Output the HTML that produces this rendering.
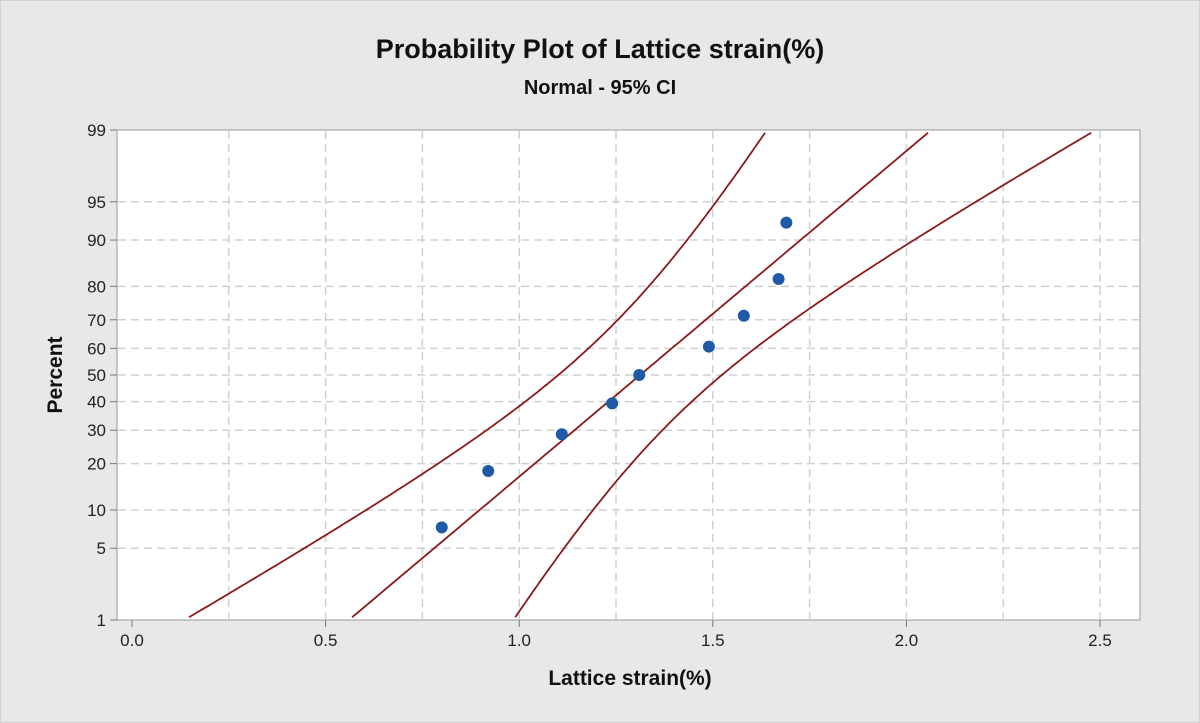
<!DOCTYPE html>
<html><head><meta charset="utf-8"><style>
body{margin:0;background:#fff}
svg{display:block;font-family:"Liberation Sans",sans-serif}
</style></head><body>
<svg id="c" width="1200" height="723" viewBox="0 0 1200 723">
<rect x="0" y="0" width="1200" height="723" fill="#e8e8e8" stroke="#bdbdbd"/>
<text x="600" y="58" text-anchor="middle" font-size="27" font-weight="bold" fill="#111">Probability Plot of Lattice strain(%)</text>
<text x="600" y="94" text-anchor="middle" font-size="20" font-weight="bold" fill="#111">Normal - 95% CI</text>
<rect x="117" y="130" width="1023" height="490" fill="#fff" stroke="#999"/>
<g id="grid"></g><g id="axes"></g><g id="curves"></g><g id="pts"></g>
<text x="630" y="685" text-anchor="middle" font-size="21" font-weight="bold" fill="#111">Lattice strain(%)</text>
<text transform="translate(62,375) rotate(-90)" text-anchor="middle" font-size="21" font-weight="bold" fill="#111">Percent</text>
</svg>
<script>
const strainValues=[0.80,0.92,1.11,1.24,1.31,1.49,1.58,1.67,1.69];
const percentValues=[7.4,18.1,28.7,39.4,50,60.6,71.3,81.9,92.6];
const xTicks=[0,0.5,1,1.5,2,2.5];
const xTickLabels=["0.0","0.5","1.0","1.5","2.0","2.5"];
const xGrid=[0.25,0.5,0.75,1,1.25,1.5,1.75,2,2.25,2.5];
const yTicks=[1,5,10,20,30,40,50,60,70,80,90,95,99];
const NS="http://www.w3.org/2000/svg";
function qnorm(p){ // Acklam
 const a=[-39.69683028665376,220.9460984245205,-275.9285104469687,138.3577518672690,-30.66479806614716,2.506628277459239],
 b=[-54.47609879822406,161.5858368580409,-155.6989798598866,66.80131188771972,-13.28068155288572],
 c=[-0.007784894002430293,-0.3223964580411365,-2.400758277161838,-2.549732539343734,4.374664141464968,2.938163982698783],
 d=[0.007784695709041462,0.3224671290700398,2.445134137142996,3.754408661907416];
 let q,r;
 if(p<0.02425){q=Math.sqrt(-2*Math.log(p));return (((((c[0]*q+c[1])*q+c[2])*q+c[3])*q+c[4])*q+c[5])/((((d[0]*q+d[1])*q+d[2])*q+d[3])*q+1);}
 if(p>1-0.02425){q=Math.sqrt(-2*Math.log(1-p));return -(((((c[0]*q+c[1])*q+c[2])*q+c[3])*q+c[4])*q+c[5])/((((d[0]*q+d[1])*q+d[2])*q+d[3])*q+1);}
 q=p-0.5;r=q*q;return (((((a[0]*r+a[1])*r+a[2])*r+a[3])*r+a[4])*r+a[5])*q/(((((b[0]*r+b[1])*r+b[2])*r+b[3])*r+b[4])*r+1);
}
const X0=132,XS=387.2,YC=375,YS=245/qnorm(0.99);
const xs=v=>X0+v*XS;
const yz=z=>YC-z*YS;
const yp=p=>yz(qnorm(p/100));
function mk(tag,attrs,parent,name){const e=document.createElementNS(NS,tag);for(const k in attrs)e.setAttribute(k,attrs[k]);
 
 
 document.getElementById(parent).appendChild(e);return e;}
xGrid.forEach(v=>mk('line',{x1:xs(v),x2:xs(v),y1:131,y2:619,stroke:'#d0d0d0','stroke-dasharray':'8,5','stroke-width':1.5},'grid','x-gridline'));
yTicks.slice(1,-1).forEach(p=>mk('line',{x1:118,x2:1139,y1:yp(p),y2:yp(p),stroke:'#d0d0d0','stroke-dasharray':'8,5','stroke-width':1.5},'grid','y-gridline'));
xTicks.forEach((v,i)=>{mk('line',{x1:xs(v),x2:xs(v),y1:620,y2:627,stroke:'#777'},'axes','x-tick');
 const t=mk('text',{x:xs(v),y:646,'text-anchor':'middle','font-size':17,fill:'#222'},'axes','x-tick-label');t.textContent=xTickLabels[i];});
yTicks.forEach(p=>{mk('line',{x1:110,x2:117,y1:yp(p),y2:yp(p),stroke:'#777'},'axes','y-tick');
 const t=mk('text',{x:106,y:yp(p)+6,'text-anchor':'end','font-size':17,fill:'#222'},'axes','y-tick-label');t.textContent=p;});
const n=strainValues.length;
const mean=strainValues.reduce((a,b)=>a+b,0)/n;
const sd=Math.sqrt(strainValues.reduce((a,b)=>a+(b-mean)**2,0)/(n-1));
function curve(f){let d='';for(let z=-2.5;z<=2.5;z+=0.02){const x=f(z);const px=xs(x),py=yz(z);
 if(py<131||py>619||px<118||px>1139)continue;d+=(d?'L':'M')+px.toFixed(1)+','+py.toFixed(1);}return d;}
const se=z=>1.96*Math.sqrt(sd*sd/n+z*z*sd*sd/(2*(n-1)));
[[z=>mean+sd*z,'fit-line'],[z=>mean+sd*z-se(z),'lower-ci'],[z=>mean+sd*z+se(z),'upper-ci']].forEach(([f,nm])=>
 mk('path',{d:curve(f),fill:'none',stroke:'#8b1a1a','stroke-width':1.8},'curves',nm));
strainValues.forEach((v,i)=>mk('circle',{cx:xs(v),cy:yp(percentValues[i]),r:6,fill:'#1f5aa6'},'pts','data-point'));
</script>
</body></html>
